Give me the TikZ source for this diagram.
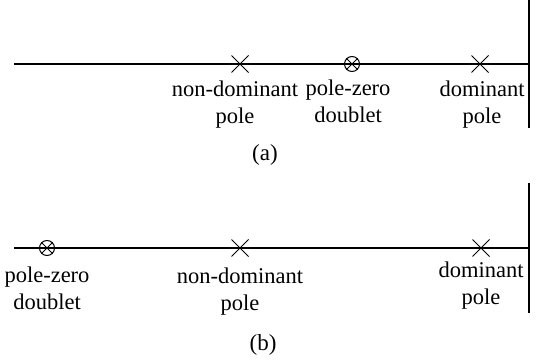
\documentclass[tikz,border=0pt]{standalone}
\usepackage{fontspec}
\setmainfont{Liberation Serif}
\usetikzlibrary{shapes.misc, positioning}

\begin{document}
\begin{tikzpicture}[
    x=1pt, y=-1pt,
    axis/.style={line width=1.3pt},
    pole/.style={
        cross out, draw, line width=1pt,
        minimum size=16pt, inner sep=0pt
    },
    zero/.style={
        circle, draw, line width=1pt,
        minimum size=15pt, inner sep=0pt
    },
    zerox/.style={
        cross out, draw, line width=1pt,
        minimum size=10.4pt, inner sep=0pt
    },
    lbl/.style={
        align=center, inner sep=0pt,
        font=\fontsize{22.5}{27}\selectfont
    },
    caption/.style={
        inner sep=0pt, font=\fontsize{23}{27}\selectfont
    }
]
\useasboundingbox (0,0) rectangle (540,361);

% (a): doublet between the two poles
\coordinate (la) at (14,64);
\coordinate (ra) at (529,64);
\coordinate (ta) at (529,0);
\coordinate (ba) at (529,128);
\draw[axis] (la) -- (ra);
\draw[axis] (ta) -- (ba);

\node[pole] (ndpa) at (240,64) {};
\node[zero] (pza) at (352,64) {};
\node[zerox] at (pza) {};
\node[pole] (dpa) at (480,64) {};

\node[lbl, below=8pt of ndpa, xshift=-5pt] {non-dominant\\pole};
\node[lbl, below=8pt of pza, xshift=-4pt] {pole-zero\\doublet};
\node[lbl, below=8pt of dpa, xshift=2pt] {dominant\\pole};

\node[caption] (capa) at (265,155) {(a)};

% (b): doublet far to the left
\coordinate (lb) at (14,248);
\coordinate (rb) at (529,248);
\coordinate (tb) at (529,183);
\coordinate (bb) at (529,313);
\draw[axis] (lb) -- (rb);
\draw[axis] (tb) -- (bb);

\node[zero] (pzb) at (47,248) {};
\node[zerox] at (pzb) {};
\node[pole] (ndpb) at (240,248) {};
\node[pole] (dpb) at (481,248) {};

\node[lbl, below=11pt of pzb] {pole-zero\\doublet};
\node[lbl, below=11pt of ndpb] {non-dominant\\pole};
\node[lbl, below=5pt of dpb] {dominant\\pole};

\node[caption] (capb) at (263,345) {(b)};

\end{tikzpicture}
\end{document}
